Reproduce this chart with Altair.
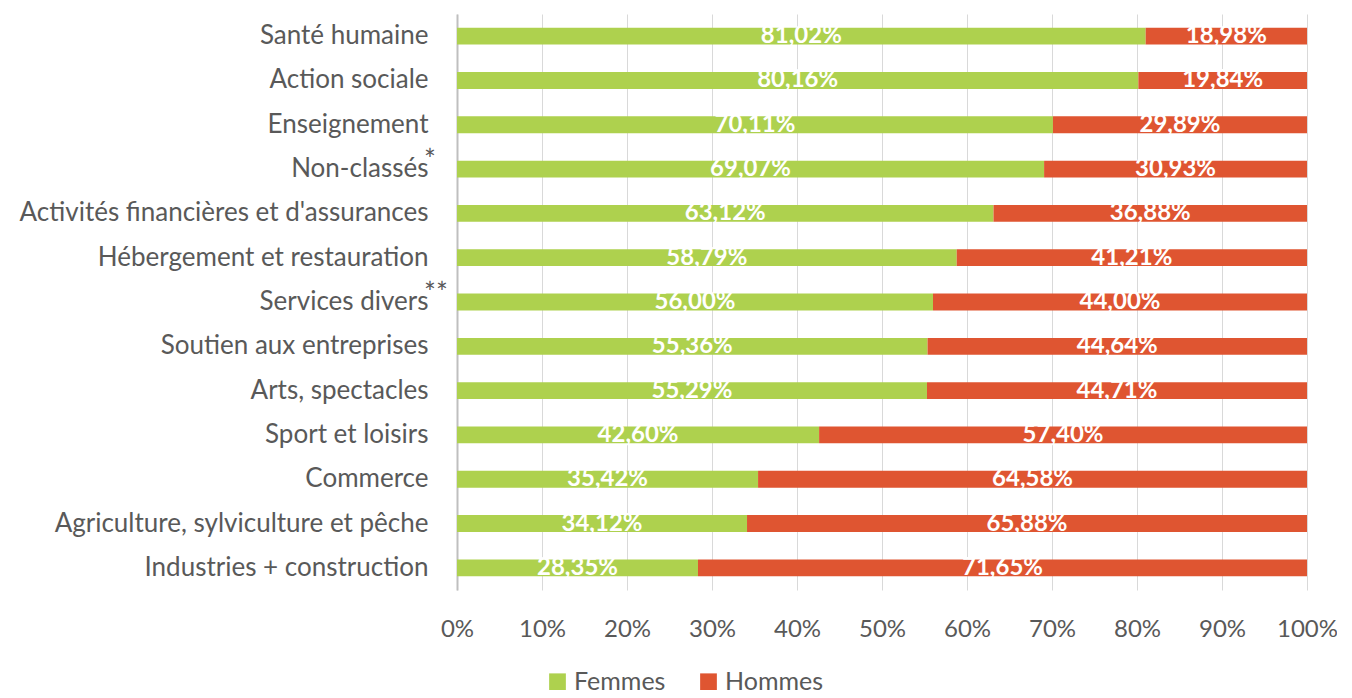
import altair as alt
import pandas as pd

categories = [
    "Santé humaine", "Action sociale", "Enseignement", "Non-classés",
    "Activités financières et d'assurances", "Hébergement et restauration",
    "Services divers", "Soutien aux entreprises", "Arts, spectacles",
    "Sport et loisirs", "Commerce", "Agriculture, sylviculture et pêche",
    "Industries + construction",
]
femmes = [81.02, 80.16, 70.11, 69.07, 63.12, 58.79, 56.00, 55.36, 55.29, 42.60, 35.42, 34.12, 28.35]
hommes = [18.98, 19.84, 29.89, 30.93, 36.88, 41.21, 44.00, 44.64, 44.71, 57.40, 64.58, 65.88, 71.65]
notes = {"Non-classés": "*", "Services divers": "**"}
series = ["Femmes", "Hommes"]
colors = ["#AED14E", "#DF5531"]

rows = []
for c, f, h in zip(categories, femmes, hommes):
    for i, (s, v) in enumerate(zip(series, [f, h])):
        rows.append({"cat": c, "serie": s, "ord": i, "val": v / 100,
                     "lab": f"{v:.2f}".replace(".", ",") + "%"})
df = pd.DataFrame(rows)
df_notes = pd.DataFrame([{"cat": k, "note": v} for k, v in notes.items()])

FONT = "Lato"
ysc = alt.Y("cat:N", sort=categories, title=None,
            scale=alt.Scale(paddingInner=0.62, paddingOuter=0.31),
            axis=alt.Axis(labelFontSize=26, labelColor="#595959", labelFont=FONT,
                          labelPadding=29, labelLimit=0, ticks=False,
                          domainColor="#BFBFBF", domainWidth=2, grid=False))

bars = alt.Chart(df).mark_bar().encode(
    x=alt.X("val:Q", stack="zero", title=None,
            scale=alt.Scale(domain=[0, 1], nice=False),
            axis=alt.Axis(format=".0%", values=[i / 10 for i in range(11)],
                          labelFontSize=24, labelColor="#595959", labelFont=FONT,
                          labelPadding=27, labelFlush=False, labelOverlap=False,
                          ticks=False, domain=False,
                          gridColor="#D9D9D9", gridWidth=1)),
    y=ysc,
    color=alt.Color("serie:N", scale=alt.Scale(domain=series, range=colors),
                    legend=alt.Legend(title=None, orient="none", direction="horizontal",
                                      legendX=88, legendY=655, symbolType="square",
                                      symbolSize=280, symbolStrokeWidth=0,
                                      labelFontSize=25, labelColor="#595959",
                                      labelFont=FONT, columnPadding=30)),
    order=alt.Order("ord:Q"),
)

labels = alt.Chart(df).mark_text(color="white", fontWeight="bold", fontSize=24,
                                 font=FONT, baseline="middle").encode(
    x=alt.X("mid:Q"),
    y=alt.Y("cat:N", sort=categories),
    text="lab:N",
).transform_window(
    cum="sum(val)", groupby=["cat"], sort=[alt.SortField("ord")]
).transform_calculate(mid="datum.cum - datum.val / 2")

stars = alt.Chart(df_notes).mark_text(color="#595959", fontSize=28, font=FONT,
                                      align="left", dx=-33, dy=-7).encode(
    x=alt.datum(0),
    y=alt.Y("cat:N", sort=categories),
    text="note:N",
)

chart = alt.layer(bars, labels, stars).properties(
    width=850, height=576,
    autosize=alt.AutoSizeParams(type="none"),
    padding={"left": 449, "top": 6, "right": 30, "bottom": 100},
).configure_view(stroke=None).configure_axisY(grid=False)

chart.save("out.html", embed_options={"renderer": "svg", "actions": False})
